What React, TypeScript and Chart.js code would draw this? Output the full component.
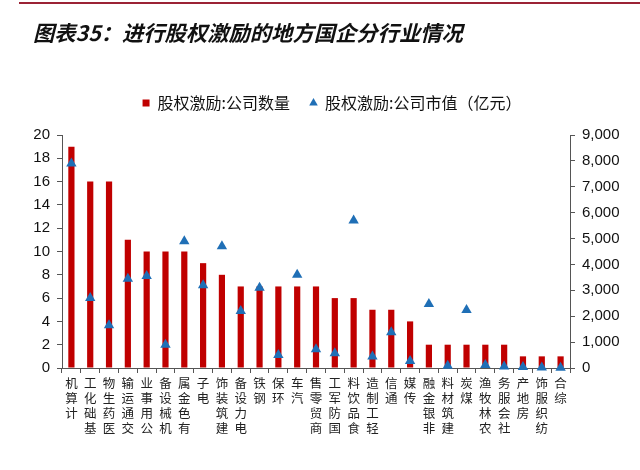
import React, { useEffect, useRef } from 'react';
import { Chart, registerables } from 'chart.js';

Chart.register(...registerables);

const titleText = '图表35：进行股权激励的地方国企分行业情况';

const categories = [
  '计算机', '基础化工', '医药生物', '交通运输', '公用事业', '机械设备', '有色金属', '电子', '建筑装饰',
  '电力设备', '钢铁', '环保', '汽车', '商贸零售', '国防军工', '食品饮料', '轻工制造', '通信', '传媒',
  '非银金融', '建筑材料', '煤炭', '农林牧渔', '社会服务', '房地产', '纺织服饰', '综合',
];

const companyCounts = [19, 16, 16, 11, 10, 10, 10, 9, 8, 7, 7, 7, 7, 7, 6, 6, 5, 5, 4, 2, 2, 2, 2, 2, 1, 1, 1];

const marketValues = [
  7900, 2700, 1650, 3450, 3550, 900, 4900, 3200, 4700, 2200, 3100, 500, 3600, 720, 570, 5700, 440,
  1380, 270, 2470, 90, 2240, 120, 60, 40, 20, 10,
];

const seriesNames = ['股权激励:公司数量', '股权激励:公司市值（亿元）'];

const leftAxis = { min: 0, max: 20, step: 2 };
const rightAxis = { min: 0, max: 9000, step: 1000 };

const CJK = '"Noto Sans CJK SC", "Noto Sans", sans-serif';
const LATIN = '"Liberation Sans", Arial, sans-serif';

export default function App() {
  const ref = useRef<HTMLCanvasElement>(null);

  useEffect(() => {
    const canvas = ref.current;
    if (!canvas) return;
    const axisColor = '#555555';
    const chart = new Chart(canvas, {
      type: 'bar',
      data: {
        labels: categories,
        datasets: [
          {
            type: 'bar',
            label: seriesNames[0],
            data: companyCounts,
            backgroundColor: '#C00000',
            borderWidth: 0,
            barPercentage: 0.33,
            categoryPercentage: 1,
            yAxisID: 'y',
            order: 2,
            pointStyle: 'rect',
          } as any,
          {
            type: 'line',
            label: seriesNames[1],
            data: marketValues,
            showLine: false,
            pointStyle: 'triangle',
            pointRadius: 6,
            pointHoverRadius: 6,
            pointBorderWidth: 0,
            borderWidth: 0,
            backgroundColor: '#1F6FB6',
            borderColor: '#1F6FB6',
            pointBackgroundColor: '#1F6FB6',
            yAxisID: 'y1',
            order: 1,
            clip: false,
          } as any,
        ],
      },
      options: {
        responsive: false,
        maintainAspectRatio: false,
        devicePixelRatio: 1,
        animation: false,
        layout: { padding: { top: 75, left: 24, right: 0, bottom: 0 } },
        plugins: {
          tooltip: { enabled: false },
          title: { display: false },
          subtitle: {
            display: true,
            text: '',
            position: 'top',
            weight: 500,
            padding: 0,
            font: { size: 10, lineHeight: '14px' },
          } as any,
          legend: {
            display: true,
            position: 'top',
            align: 'center',
            labels: {
              usePointStyle: true,
              boxWidth: 7,
              boxHeight: 7,
              padding: 20,
              color: '#111111',
              font: { family: CJK, size: 16 },
              sort: (a: any, b: any) => a.datasetIndex - b.datasetIndex,
            },
          },
        },
        scales: {
          x: {
            type: 'category',
            offset: true,
            grid: {
              display: true,
              drawOnChartArea: false,
              offset: true,
              tickLength: 5,
              color: axisColor,
            },
            border: { display: true, color: axisColor, width: 1 },
            ticks: {
              autoSkip: false,
              maxRotation: 0,
              minRotation: 0,
              padding: 3,
              color: '#222222',
              font: { family: CJK, size: 12.5, lineHeight: '15px' },
              callback: (_v: any, i: number) => categories[i].split('').reverse(),
            },
            afterFit: (s: any) => {
              s.height = 102;
            },
          },
          y: {
            type: 'linear',
            position: 'left',
            min: leftAxis.min,
            max: leftAxis.max,
            grid: { display: true, drawOnChartArea: false, tickLength: 5, color: axisColor },
            border: { display: true, color: axisColor, width: 1 },
            ticks: {
              stepSize: leftAxis.step,
              padding: 7,
              color: '#111111',
              font: { family: LATIN, size: 15 },
            },
            afterFit: (s: any) => {
              s.width = 38;
            },
          },
          y1: {
            type: 'linear',
            position: 'right',
            min: rightAxis.min,
            max: rightAxis.max,
            grid: { display: true, drawOnChartArea: false, tickLength: 5, color: axisColor },
            border: { display: true, color: axisColor, width: 1 },
            ticks: {
              stepSize: rightAxis.step,
              padding: 7,
              color: '#111111',
              font: { family: LATIN, size: 15 },
              callback: (v: any) => Number(v).toLocaleString('en-US'),
            },
            afterFit: (s: any) => {
              s.width = 70;
            },
          },
        },
      } as any,
    });
    return () => chart.destroy();
  }, []);

  return (
    <div
      style={{
        position: 'fixed',
        left: 0,
        top: 0,
        width: 640,
        height: 470,
        background: '#ffffff',
        overflow: 'hidden',
      }}
    >
      <canvas
        ref={ref}
        width={640}
        height={470}
        style={{ position: 'absolute', left: 0, top: 0, width: 640, height: 470 }}
      />
      <div
        style={{
          position: 'absolute',
          left: 19,
          top: 2,
          width: 621,
          height: 2,
          background: '#9B2335',
        }}
      />
      <div
        style={{
          position: 'absolute',
          left: 33,
          top: 20,
          fontFamily: CJK,
          fontWeight: 700,
          fontStyle: 'italic',
          fontSize: 21.3,
          lineHeight: '24px',
          color: '#111111',
          whiteSpace: 'nowrap',
        }}
      >
        {titleText}
      </div>
    </div>
  );
}
